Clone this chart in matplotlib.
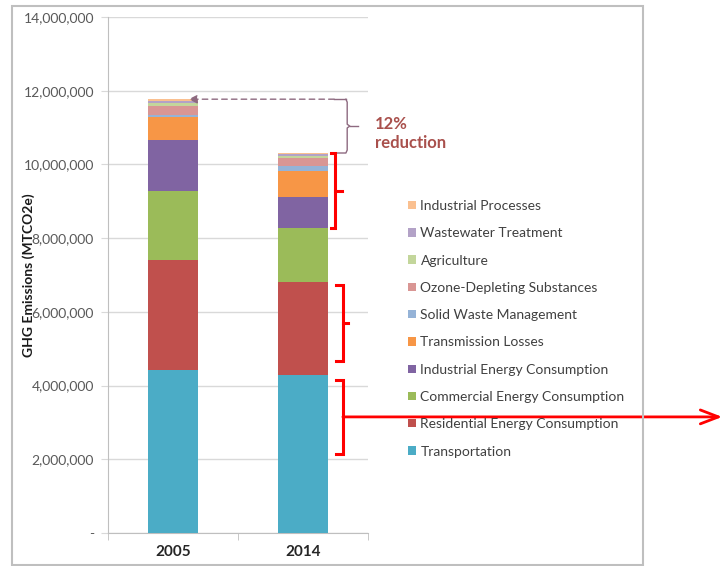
import numpy as np
import matplotlib
matplotlib.use('Agg')
import matplotlib.pyplot as plt
from matplotlib.patches import Rectangle, Patch
from matplotlib.ticker import FuncFormatter

plt.rcParams['font.family'] = ['Lato', 'DejaVu Sans']

years = ['2005', '2014']
sectors = ['Transportation', 'Residential Energy Consumption', 'Commercial Energy Consumption',
           'Industrial Energy Consumption', 'Transmission Losses', 'Solid Waste Management',
           'Ozone-Depleting Substances', 'Agriculture', 'Wastewater Treatment', 'Industrial Processes']
emissions_2005 = [4420000, 3000000, 1850000, 1380000, 650000, 50000, 230000, 80000, 70000, 40000]
emissions_2014 = [4290000, 2520000, 1460000, 850000, 700000, 140000, 210000, 50000, 60000, 30000]
colors = ['#4BACC6', '#C0504D', '#9BBB59', '#8064A2', '#F79646',
          '#95B3D7', '#D99694', '#C3D69B', '#B3A2C7', '#FAC090']

W, H = 725, 566
fig = plt.figure(figsize=(W / 100, H / 100), dpi=100)
fig.patches.append(Rectangle((12 / W, 1 - 565 / H), 631 / W, 559 / H, transform=fig.transFigure,
                             fill=False, edgecolor='#BFBFBF', lw=1.5))

ax = fig.add_axes([108 / W, 1 - 533 / H, 260 / W, 516 / H])
x = np.arange(len(years))
bottom = np.zeros(len(years))
handles = []
for i, s in enumerate(sectors):
    vals = np.array([emissions_2005[i], emissions_2014[i]], dtype=float)
    ax.bar(x, vals, 0.39, bottom=bottom, color=colors[i], edgecolor='none', zorder=3)
    bottom += vals
    handles.append(Patch(facecolor=colors[i], edgecolor='none', label=s))

ax.set_xlim(-0.5, 1.5)
ax.set_ylim(0, 14e6)
ax.set_yticks(np.arange(0, 14e6 + 1, 2e6))
ax.yaxis.set_major_formatter(FuncFormatter(lambda v, p: '-' if v == 0 else f'{v:,.0f}'))
ax.yaxis.grid(True, color='#D9D9D9', lw=1, zorder=0)
ax.set_axisbelow(True)
for sp in ['top', 'right']:
    ax.spines[sp].set_visible(False)
for sp in ['left', 'bottom']:
    ax.spines[sp].set_color('#BFBFBF')
ax.tick_params(axis='y', length=5, color='#D9D9D9', labelsize=10, labelcolor='#595959', pad=5)
ax.set_xticks(x)
ax.set_xticklabels(years, fontweight='bold', fontsize=11, color='#262626')
ax.set_xticks([-0.5, 0.5, 1.5], minor=True)
ax.tick_params(axis='x', which='major', length=0, pad=9)
ax.tick_params(axis='x', which='minor', length=5, color='#BFBFBF')
ax.set_ylabel('GHG Emissions (MTCO2e)', fontweight='bold', fontsize=10, color='#1a1a1a')
ax.yaxis.set_label_coords((35 - 108) / 260, 0.5)

leg = ax.legend(handles=handles[::-1], loc='upper left', bbox_to_anchor=(408 / W, 1 - 200 / H),
                bbox_transform=fig.transFigure, frameon=False, fontsize=10, labelcolor='#404040',
                handlelength=0.55, handleheight=0.55, handletextpad=0.35, labelspacing=1.10,
                borderpad=0, borderaxespad=0)

# red brackets
red = '#FF0000'
def bracket(xv, xh, xn, y0, y1):
    ym = (y0 + y1) / 2
    ax.plot([xh, xv, xv, xh], [y0, y0, y1, y1], color=red, lw=2.2, clip_on=False, zorder=5,
            solid_joinstyle='miter')
    ax.plot([xv, xn], [ym, ym], color=red, lw=2.2, clip_on=False, zorder=5)

bracket(1.245, 1.212, 1.30, 10.30e6, 8.27e6)
bracket(1.307, 1.252, 1.345, 6.73e6, 4.67e6)
ax.plot([1.252, 1.307, 1.307, 1.252], [4.15e6, 4.15e6, 2.14e6, 2.14e6], color=red, lw=2.2,
        clip_on=False, zorder=5, solid_joinstyle='miter')
ax.annotate('', xy=(4.225, 3.15e6), xytext=(1.307, 3.15e6), xycoords='data',
            arrowprops=dict(arrowstyle='->,head_length=1.3,head_width=0.5', color=red, lw=2,
                            shrinkA=0, shrinkB=0), annotation_clip=False)

# 12% reduction brace
total05 = sum(emissions_2005)
total14 = sum(emissions_2014)
bc = '#8E6A80'
ax.annotate('', xy=(0.12, total05), xytext=(1.24, total05),
            arrowprops=dict(arrowstyle='-|>,head_length=0.5,head_width=0.25', color=bc, lw=1,
                            linestyle=(0, (4, 3)), shrinkA=0, shrinkB=0), annotation_clip=False)
ax.plot([1.24, 1.33], [total05, total05], color=bc, lw=1, clip_on=False)
ymid = (total05 + total14) / 2
ax.plot([1.33, 1.34, 1.34, 1.36, 1.34, 1.34, 1.33, 1.24],
        [total05, total05 - 0.08e6, ymid + 0.05e6, ymid, ymid - 0.05e6, total14 + 0.08e6, total14, total14],
        color=bc, lw=1, clip_on=False)
ax.plot([1.36, 1.42], [ymid, ymid], color=bc, lw=1, clip_on=False)
ax.text(1.55, ymid - 0.2e6, '12%\nreduction', fontsize=12, fontweight='bold', color='#A9504C',
        ha='left', va='center', linespacing=1.3)

fig.savefig('out.png', dpi=100)
